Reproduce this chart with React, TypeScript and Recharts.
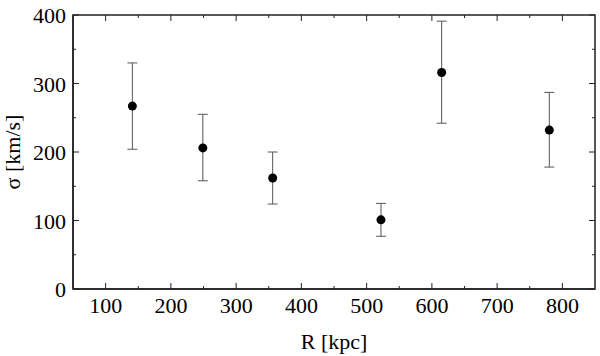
import * as React from "react";
import { ScatterChart, Scatter, XAxis, YAxis, ErrorBar, ReferenceArea } from "recharts";

const radius = [141, 249, 356, 522, 615, 780];
const sigma = [267, 206, 162, 101, 316, 232];
const errLow = [63, 48, 38, 24, 74, 54];
const errHigh = [63, 49, 38, 24, 75, 55];

const xTicks = [100, 150, 200, 250, 300, 350, 400, 450, 500, 550, 600, 650, 700, 750, 800];
const yTicks = [0, 50, 100, 150, 200, 250, 300, 350, 400];
const xDomain = [50, 850];
const yDomain = [0, 400];

const font = "'Liberation Serif', 'Times New Roman', serif";
const axisColor = "#222";

const W = 600;
const H = 356;
const M = { top: 15, right: 5, left: 0, bottom: 0 };
const Y_AXIS_W = 73;
const X_AXIS_H = 67;
const PLOT_W = W - M.left - M.right - Y_AXIS_W;
const PLOT_H = H - M.top - M.bottom - X_AXIS_H;

const points = radius.map((r, i) => ({
  r,
  s: sigma[i],
  err: [errLow[i], errHigh[i]],
}));

const isMajor = (v: number) => v % 100 === 0;

// bottom tick also mirrors an inward tick on the top frame
const BottomTick = (props: any) => {
  const { x, y, payload } = props;
  const v = payload.value;
  const len = isMajor(v) ? 6 : 3;
  const top = y - PLOT_H;
  return (
    <g>
      <line x1={x} y1={y} x2={x} y2={y - len} stroke={axisColor} strokeWidth={1} />
      <line x1={x} y1={top} x2={x} y2={top + len} stroke={axisColor} strokeWidth={1} />
      {isMajor(v) && (
        <text x={x} y={y + 24} textAnchor="middle" fontFamily={font} fontSize={22} fill="#000">
          {v}
        </text>
      )}
    </g>
  );
};

// left tick also mirrors an inward tick on the right frame
const LeftTick = (props: any) => {
  const { x, y, payload } = props;
  const v = payload.value;
  const len = isMajor(v) ? 6 : 3;
  const right = x + PLOT_W;
  return (
    <g>
      <line x1={x} y1={y} x2={x + len} y2={y} stroke={axisColor} strokeWidth={1} />
      <line x1={right} y1={y} x2={right - len} y2={y} stroke={axisColor} strokeWidth={1} />
      {isMajor(v) && (
        <text x={x - 7} y={y + 8} textAnchor="end" fontFamily={font} fontSize={22} fill="#000">
          {v}
        </text>
      )}
    </g>
  );
};

const YTitle = (props: any) => {
  const vb = props.viewBox || { x: 0, y: M.top, width: Y_AXIS_W, height: PLOT_H };
  const cy = vb.y + vb.height / 2;
  return (
    <text
      x={20}
      y={cy}
      transform={`rotate(-90, 20, ${cy})`}
      textAnchor="middle"
      fontFamily={font}
      fontSize={22}
      fill="#000"
    >
      σ [km/s]
    </text>
  );
};

const Dot = (props: any) => <circle cx={props.cx} cy={props.cy} r={4.5} fill="#000" />;

export default function App() {
  return (
    <div style={{ position: "absolute", left: 0, top: 0, width: W, height: H, background: "#fff" }}>
      <ScatterChart width={W} height={H} margin={M}>
        <XAxis
          type="number"
          dataKey="r"
          domain={xDomain}
          ticks={xTicks}
          interval={0}
          height={X_AXIS_H}
          tickSize={0}
          tickMargin={0}
          tickLine={false}
          tick={<BottomTick />}
          axisLine={{ stroke: axisColor, strokeWidth: 1.5 }}
          label={{
            value: "R [kpc]",
            position: "insideBottom",
            offset: 7,
            fontFamily: font,
            fontSize: 22,
            fill: "#000",
          }}
        />
        <YAxis
          type="number"
          dataKey="s"
          domain={yDomain}
          ticks={yTicks}
          interval={0}
          width={Y_AXIS_W}
          tickSize={0}
          tickMargin={0}
          tickLine={false}
          tick={<LeftTick />}
          axisLine={{ stroke: axisColor, strokeWidth: 1.5 }}
          label={<YTitle />}
        />
        {/* full plot frame */}
        <ReferenceArea
          x1={xDomain[0]}
          x2={xDomain[1]}
          y1={yDomain[0]}
          y2={yDomain[1]}
          fill="none"
          fillOpacity={0}
          stroke={axisColor}
          strokeWidth={1.5}
          ifOverflow="visible"
        />
        <Scatter data={points} shape={<Dot />} fill="#000" isAnimationActive={false}>
          <ErrorBar
            dataKey="err"
            direction="y"
            width={5}
            stroke="#555"
            strokeWidth={1}
            isAnimationActive={false}
          />
        </Scatter>
      </ScatterChart>
    </div>
  );
}
